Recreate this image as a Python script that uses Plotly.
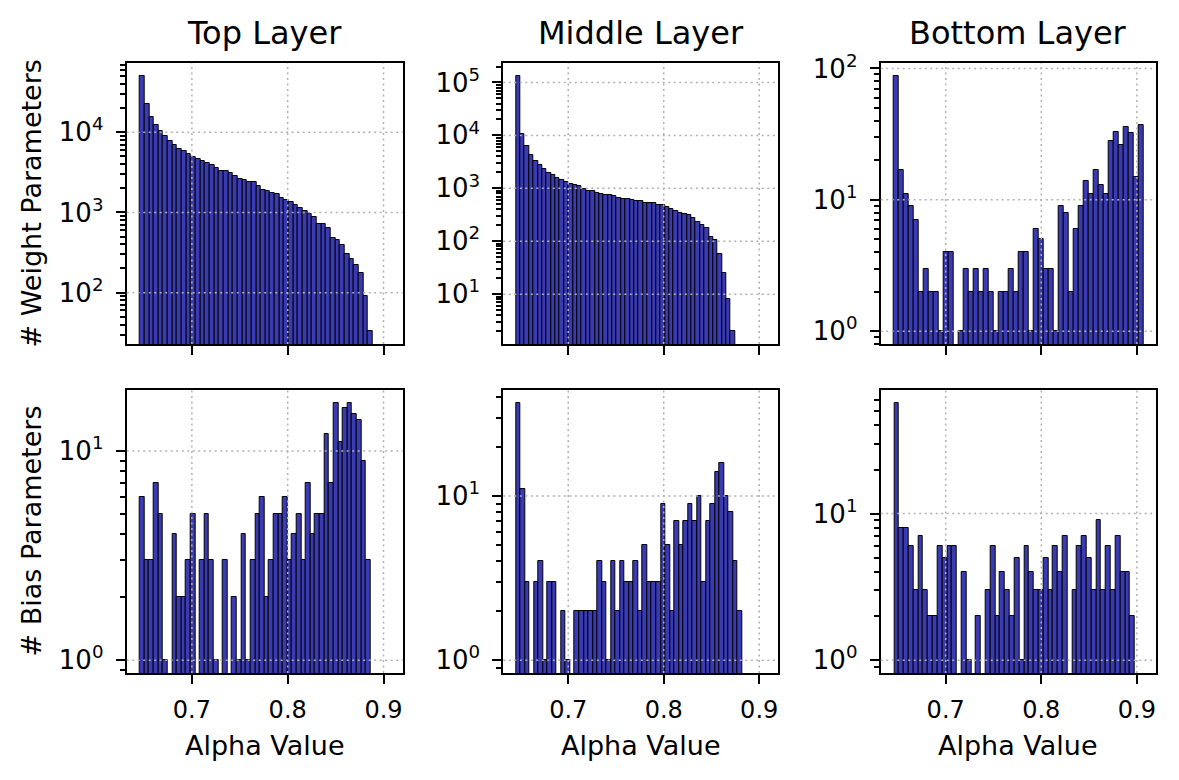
import numpy as np
import plotly.graph_objects as go

# ---------------- data ----------------
layer_names = ["Top Layer", "Middle Layer", "Bottom Layer"]
row_labels = ["# Weight Parameters", "# Bias Parameters"]
x_label = "Alpha Value"
x_tick_vals = [0.7, 0.8, 0.9]
x_tick_text = ["0.7", "0.8", "0.9"]
y_tick_exponents = [0, 1, 2, 3, 4, 5]

weight_top = [50700, 22500, 15500, 12450, 10300, 9000, 7720, 6890, 6200, 5860,
              5380, 4980, 4660, 4360, 4120, 3890, 3600, 3300, 3300, 3120,
              2860, 2620, 2550, 2430, 2430, 2130, 1900, 1840, 1760, 1710,
              1520, 1450, 1345, 1250, 1130, 1040, 962, 875, 722, 722,
              632, 474, 457, 392, 306, 263, 221, 177, 91, 33]
weight_middle = [133700, 10670, 6420, 4340, 3340, 2810, 2360, 1980, 1760, 1590,
                 1460, 1318, 1208, 1173, 1091, 986, 903, 903, 828, 781,
                 737, 759, 716, 656, 637, 628, 601, 584, 584, 520,
                 536, 520, 484, 477, 437, 412, 378, 346, 327, 308,
                 274, 230, 205, 177, 118, 105, 57, 25, 8, 2]
weight_bottom = [88, 17, 11, 9, 7, 2, 3, 2, 2, 1, 4, 4, 0, 1, 3, 2, 3, 2, 3, 2,
                 1, 2, 2, 3, 2, 4, 4, 1, 6, 5, 3, 3, 1, 9, 8, 2, 6, 9, 14, 11,
                 17, 13, 11, 28, 33, 26, 36, 32, 15, 37]
bias_top = [6, 3, 3, 7, 5, 1, 0, 4, 2, 2, 3, 5, 0, 3, 5, 3, 1, 0, 3, 0,
            2, 1, 4, 1, 3, 5, 6, 2, 3, 5, 5, 6, 3, 4, 5, 3, 7, 4, 5, 5,
            12, 7, 17, 11, 16, 17, 15, 14, 9, 3]
bias_middle = [37, 11, 3, 0, 3, 4, 1, 3, 3, 0, 2, 1, 0, 2, 2, 2, 2, 2, 4, 3,
               1, 4, 2, 4, 3, 3, 4, 2, 5, 3, 3, 3, 9, 5, 2, 7, 5, 7, 9, 7,
               10, 3, 7, 9, 14, 16, 10, 8, 4, 2]
bias_bottom = [57, 8, 8, 6, 3, 7, 3, 2, 2, 6, 5, 6, 6, 0, 4, 1, 0, 2, 0, 3,
               6, 2, 4, 3, 2, 5, 1, 6, 4, 3, 3, 5, 3, 6, 4, 7, 0, 3, 6, 7,
               5, 3, 9, 3, 6, 3, 7, 4, 4, 2]

# histogram range (first edge, last edge) of each panel
weight_top_range = (0.6458, 0.8885)
weight_middle_range = (0.6452, 0.8748)
weight_bottom_range = (0.6458, 0.9069)
bias_top_range = (0.6458, 0.8864)
bias_middle_range = (0.6452, 0.8823)
bias_bottom_range = (0.6462, 0.8979)

x_range = [0.632, 0.920]

# ---------------- layout / style ----------------
W, H = 1179, 780
OFF = 8  # default page body margin of the html page
FONT = "DejaVu Sans"
BAR_COLOR = "#3a3ab4"
GRID_COLOR = "#b0b0b0"

col_px = [(126.7, 402.7), (503.3, 778.3), (880.7, 1156.0)]
row_px = [(63.0, 344.0), (390.0, 673.0)]


def px_x(v):
    return (v - OFF) / W


def px_y(v):
    return 1 - (v - OFF) / H


panels = [
    (0, 0, weight_top, weight_top_range),
    (0, 1, weight_middle, weight_middle_range),
    (0, 2, weight_bottom, weight_bottom_range),
    (1, 0, bias_top, bias_top_range),
    (1, 1, bias_middle, bias_middle_range),
    (1, 2, bias_bottom, bias_bottom_range),
]

fig = go.Figure()
layout = dict(template="none", width=W, height=H,
              margin=dict(l=0, r=0, t=0, b=0, pad=0, autoexpand=False),
              paper_bgcolor="white", plot_bgcolor="white",
              font=dict(family=FONT, color="black"), showlegend=False,
              bargap=0)
shapes = []
annotations = []

minor_vals = [m * 10 ** k for k in range(-1, 7) for m in range(2, 10)]

for idx, (r, c, counts, (lo_e, hi_e)) in enumerate(panels, start=1):
    n = len(counts)
    edges = np.linspace(lo_e, hi_e, n + 1)
    centers = (edges[:-1] + edges[1:]) / 2
    w = edges[1] - edges[0]
    yvals = [v if v > 0 else None for v in counts]
    xa = "x" if idx == 1 else f"x{idx}"
    ya = "y" if idx == 1 else f"y{idx}"
    fig.add_trace(go.Bar(x=centers, y=yvals, width=w, xaxis=xa, yaxis=ya,
                         marker=dict(color=BAR_COLOR,
                                     line=dict(color="black", width=1)),
                         hoverinfo="x+y"))
    pos = [v for v in counts if v > 0]
    lo = np.log10(min(pos))
    hi = np.log10(max(pos))
    pad = 0.05 * (hi - lo)
    ylo, yhi = lo - pad, hi + pad

    x0, x1 = col_px[c]
    yt, yb = row_px[r]
    xdom = [px_x(x0), px_x(x1)]
    ydom = [px_y(yb), px_y(yt)]
    key_x = "xaxis" if idx == 1 else f"xaxis{idx}"
    key_y = "yaxis" if idx == 1 else f"yaxis{idx}"
    layout[key_x] = dict(domain=xdom, anchor=ya, range=x_range,
                         automargin=False,
                         showline=True, linecolor="black", linewidth=2,
                         mirror=True, ticks="outside", ticklen=9,
                         tickwidth=2, tickcolor="black",
                         tickmode="array", tickvals=x_tick_vals,
                         ticktext=x_tick_text, showticklabels=(r == 1),
                         tickfont=dict(size=24, family=FONT),
                         showgrid=False, zeroline=False,
                         ticklabelstandoff=5)
    layout[key_y] = dict(domain=ydom, anchor=xa, type="log",
                         range=[ylo, yhi], automargin=False,
                         showline=True, linecolor="black", linewidth=2,
                         mirror=True, ticks="outside", ticklen=9,
                         tickwidth=2, tickcolor="black",
                         tickmode="array",
                         tickvals=[10 ** k for k in y_tick_exponents],
                         ticktext=[f"10<sup>{k}</sup>" for k in y_tick_exponents],
                         tickfont=dict(size=26, family=FONT),
                         showgrid=False, zeroline=False,
                         ticklabelstandoff=7,
                         minor=dict(tickmode="array", tickvals=minor_vals,
                                    ticks="outside", ticklen=5, tickwidth=1.5,
                                    tickcolor="black", showgrid=False))
    # grid lines drawn above the bars
    gl = dict(color=GRID_COLOR, width=1.5, dash="2px,3.5px")
    for xv in x_tick_vals:
        shapes.append(dict(type="line", xref=xa, yref=f"{ya} domain",
                           x0=xv, x1=xv, y0=0, y1=1, line=gl, layer="above"))
    for k in y_tick_exponents:
        if ylo <= k <= yhi:
            fy = (k - ylo) / (yhi - ylo)
            shapes.append(dict(type="line", xref=f"{xa} domain",
                               yref=f"{ya} domain", x0=0, x1=1,
                               y0=fy, y1=fy, line=gl, layer="above"))

    if r == 0:
        annotations.append(dict(text=layer_names[c], xref="paper",
                                yref="paper", x=px_x((x0 + x1) / 2),
                                y=px_y(33), xanchor="center",
                                yanchor="middle", showarrow=False,
                                font=dict(size=32, family=FONT)))
    else:
        annotations.append(dict(text=x_label, xref="paper", yref="paper",
                                x=px_x((x0 + x1) / 2), y=px_y(745),
                                xanchor="center", yanchor="middle",
                                showarrow=False,
                                font=dict(size=27, family=FONT)))
    if c == 0:
        annotations.append(dict(text=row_labels[r], xref="paper",
                                yref="paper", x=px_x(31),
                                y=px_y((yt + yb) / 2), xanchor="center",
                                yanchor="middle", textangle=-90,
                                showarrow=False,
                                font=dict(size=27, family=FONT)))

layout["shapes"] = shapes
layout["annotations"] = annotations
fig.update_layout(**layout)
fig.write_html("out.html")
